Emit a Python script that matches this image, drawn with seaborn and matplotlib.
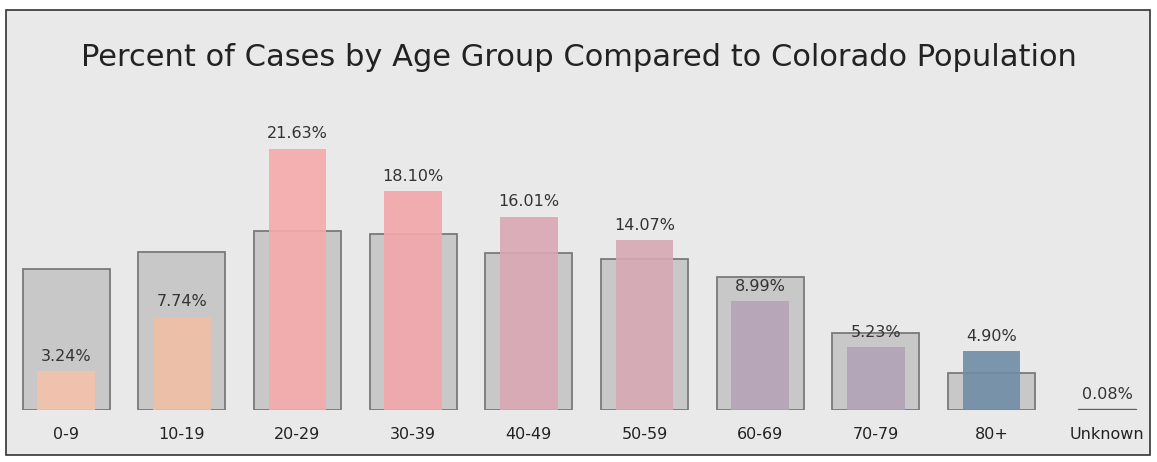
import numpy as np
import pandas as pd
import matplotlib.pyplot as plt
import seaborn as sns
from matplotlib.patches import Rectangle

age_groups = ["0-9", "10-19", "20-29", "30-39", "40-49", "50-59", "60-69", "70-79", "80+", "Unknown"]
case_pct = [3.24, 7.74, 21.63, 18.10, 16.01, 14.07, 8.99, 5.23, 4.90, 0.08]
pop_pct = [11.7, 13.1, 14.8, 14.6, 13.0, 12.5, 11.0, 6.4, 3.1, np.nan]
case_colors = ["#f3c2ab", "#f1bea6", "#f6a9ab", "#f2a6aa", "#d9a7b3", "#d7a8b4",
               "#b6a3b7", "#b1a3b8", "#6f8ca6", "#8a8a8a"]

df = pd.DataFrame({"age": age_groups, "cases": case_pct, "population": pop_pct})

W, H = 1157, 462
fig = plt.figure(figsize=(W / 100, H / 100), dpi=100)
fig.patch.set_facecolor("white")
frame = Rectangle((6 / W, 1 - 455 / H), 1144 / W, 445 / H,
                  transform=fig.transFigure, facecolor="#e9e9e9",
                  edgecolor="#333333", linewidth=1.2, zorder=-5)
fig.patches.append(frame)

ax = fig.add_axes([6 / W, 52 / H, 1144 / W, 302 / H])
ax.set_facecolor("none")
ax.set_zorder(2)

# population bars (wide, gray)
sns.barplot(data=df, x="age", y="population", color="#c8c8c8", width=0.75,
            edgecolor="#7a7a7a", linewidth=1.3, saturation=1, ax=ax, zorder=1)
n_pop = len(ax.patches)
# case bars (narrow, coloured)
sns.barplot(data=df, x="age", y="cases", hue="age", palette=case_colors, width=0.5,
            saturation=1, legend=False, ax=ax, zorder=2)
case_bars = ax.patches[n_pop:]
for p in case_bars:
    p.set_alpha(0.9)
# the "Unknown" bar is only a hairline
case_bars[-1].set_edgecolor("#555555")
case_bars[-1].set_linewidth(1.0)

for i, v in enumerate(case_pct):
    ax.text(i, v + 0.6, f"{v:.2f}%", ha="center", va="bottom", fontsize=11.5, color="#333333")

ax.set_xlim(-0.52, 9.37)
ax.set_ylim(0, 25)
ax.set_xlabel("")
ax.set_ylabel("")
ax.set_yticks([])
ax.tick_params(axis="x", length=0, labelsize=11.5, labelcolor="#222222", pad=12)
sns.despine(ax=ax, left=True, bottom=True)

fig.text(0.5, 1 - 58 / H, "Percent of Cases by Age Group Compared to Colorado Population",
         ha="center", va="center", fontsize=22, color="#222222")

fig.savefig("out.png", dpi=100)
